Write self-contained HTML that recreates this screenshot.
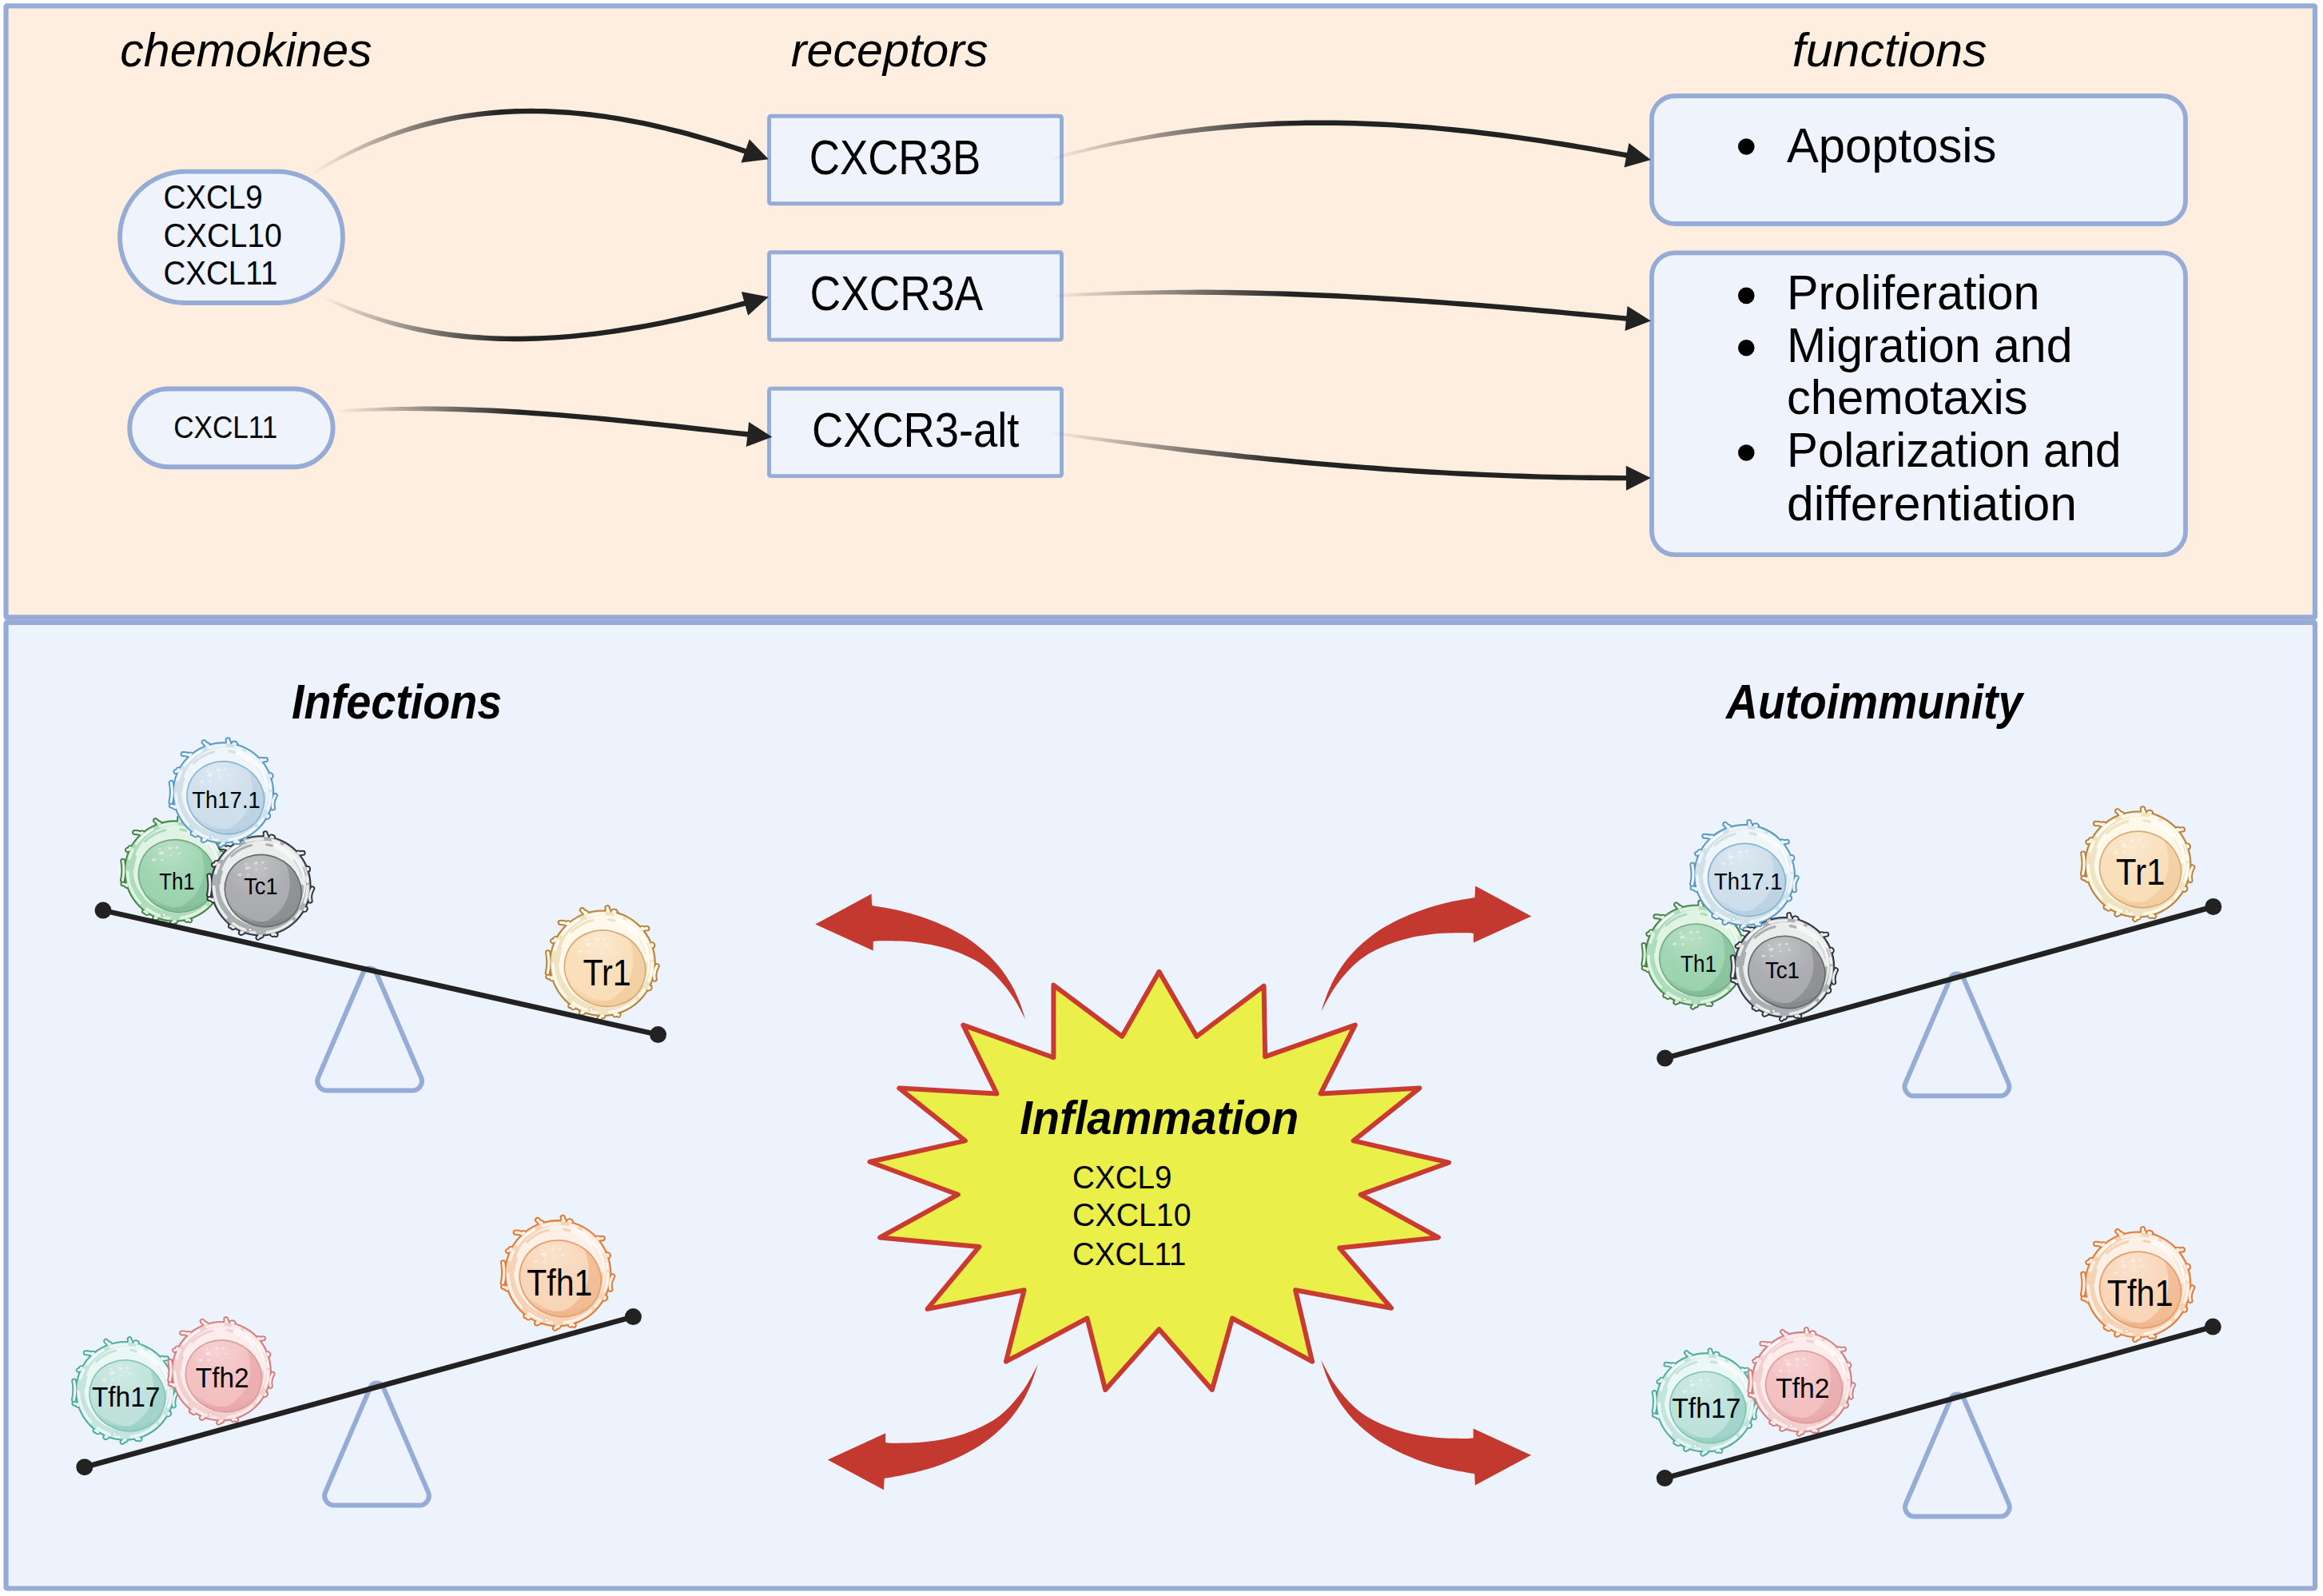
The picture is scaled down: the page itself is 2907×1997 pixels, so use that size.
<!DOCTYPE html>
<html><head><meta charset="utf-8"><title>CXCR3</title>
<style>
html,body{margin:0;padding:0;background:#fff}
svg{display:block;font-family:"Liberation Sans",sans-serif}
</style></head><body>
<svg width="2907" height="1997" viewBox="0 0 2907 1997">
<defs><path id="fg" d="M-19.4 -57.8Q-20.8 -62.3 -25.2 -65.7M6.4 -60.7Q6.8 -64.6 6.0 -68.6M13.2 -59.6Q13.7 -61.7 15.8 -63.5M-40.0 -46.0Q-43.8 -50.3 -52.1 -50.3M46.0 -40.0Q49.4 -42.9 55.1 -43.0M-54.4 -27.7Q-57.2 -29.1 -61.6 -27.4M-58.5 17.3Q-62.5 18.5 -67.3 16.8M53.9 28.6Q55.8 29.7 58.3 29.7M-34.1 50.6Q-35.5 52.6 -39.7 52.6M-22.9 56.6Q-24.0 59.3 -26.1 61.6M0.0 61.0Q0.0 64.5 -3.6 67.8M14.8 59.2Q15.5 62.1 19.6 64.0M57.3 -20.9Q59.4 -21.6 61.8 -21.3M-67.8 11.9Q-65.0 0.0 -67.5 -13.1M67.3 3.5Q62.4 12.1 64.5 19.7" fill="none" stroke-linecap="round"/><path id="fb" d="M-19.4 -57.8Q-20.0 -59.6 -20.6 -61.5M6.4 -60.7Q6.6 -62.6 6.8 -64.4M13.2 -59.6Q13.6 -61.4 14.0 -63.3M-40.0 -46.0Q-41.3 -47.5 -42.5 -48.9M46.0 -40.0Q47.5 -41.3 48.9 -42.5M-54.4 -27.7Q-56.0 -28.6 -57.7 -29.4M-58.5 17.3Q-60.3 17.9 -62.1 18.4M53.9 28.6Q55.5 29.5 57.2 30.4M-34.1 50.6Q-35.2 52.1 -36.2 53.7M-22.9 56.6Q-23.6 58.3 -24.3 60.1M0.0 61.0Q0.0 62.9 0.0 64.8M14.8 59.2Q15.2 61.0 15.7 62.9M57.3 -20.9Q59.1 -21.5 60.9 -22.2" fill="none" stroke-linecap="round"/><circle id="rl" r="61.3" fill="none" stroke-width="3.6" stroke-linecap="round" stroke-dasharray="22 13 9 8 36 16 6 7 18 12 44 18 12 9 28 11"/><circle id="rm" r="54.5" fill="none" stroke-width="3.2" stroke-linecap="round" stroke-dasharray="16 24 30 20 8 34 24 16 12 30" stroke-dashoffset="40"/><g id="hil" fill="none" stroke="#fff" stroke-linecap="round"><path d="M19.0 -52.2A55.5 55.5 0 0 1 53.9 -13.4" stroke-width="7" stroke-opacity=".55"/><path d="M50.6 -35.4A61.8 61.8 0 0 1 61.6 -5.4" stroke-width="1.2" stroke-opacity=".9"/><path d="M-46.7 -39.2A61.0 61.0 0 0 1 -28.6 -53.9" stroke-width="2" stroke-opacity=".8"/></g><ellipse id="nu" cx="0" cy="0" rx="50.6" ry="46.4"/><clipPath id="nuc"><ellipse rx="50.6" ry="46.4"/></clipPath><radialGradient id="nhl" cx="0.30" cy="0.22" r="0.75"><stop offset="0" stop-color="#fff" stop-opacity=".30"/><stop offset=".55" stop-color="#fff" stop-opacity=".05"/><stop offset="1" stop-color="#fff" stop-opacity="0"/></radialGradient><g id="spk" fill="#fff" fill-opacity=".45"><ellipse cx="-30" cy="-20" rx="3.3" ry="2.2" transform="rotate(-35 -30 -20)"/><ellipse cx="-22" cy="-30" rx="2.4" ry="1.6" transform="rotate(-35 -22 -30)"/><ellipse cx="-36" cy="-8" rx="2.7" ry="1.8" transform="rotate(-35 -36 -8)"/><ellipse cx="-14" cy="-34" rx="2.1" ry="1.4" transform="rotate(-35 -14 -34)"/><ellipse cx="-26" cy="-12" rx="2.0" ry="1.3" transform="rotate(-35 -26 -12)"/><ellipse cx="-8" cy="-28" rx="1.8" ry="1.2" transform="rotate(-35 -8 -28)"/><ellipse cx="-34" cy="-24" rx="1.8" ry="1.2" transform="rotate(-35 -34 -24)"/><ellipse cx="-18" cy="-22" rx="1.5" ry="1.0" transform="rotate(-35 -18 -22)"/></g><g id="cB"><use href="#fb" stroke="#5898c5" stroke-width="9.0"/><use href="#fg" stroke="#5898c5" stroke-width="7.2"/><circle r="66.0" fill="#5898c5"/><use href="#fb" stroke="#eff5f9" stroke-width="5.0"/><use href="#fg" stroke="#eff5f9" stroke-width="3.2"/><circle r="64.0" fill="#cfe2ea"/><circle cx="2.4" cy="-2.6" r="56.6" fill="#eff5f9"/><use href="#rl" stroke="#eff5f9"/><use href="#rm" stroke="#cfe2ea"/><use href="#hil"/><circle cx="-14" cy="57.0" r="2.1" fill="#fff" fill-opacity=".85" stroke="#85b5d5" stroke-width=".6"/><circle cx="-9.5" cy="58.5" r="1.3" fill="#fff" fill-opacity=".85" stroke="#85b5d5" stroke-width=".5"/><g transform="translate(3.0 6.4) rotate(22)"><use href="#nu" fill="#cddfeb"/><g clip-path="url(#nuc)"><path d="M-4 -60 C 34 -34 44 4 20 34 C 0 50 -40 44 -60 30 L-60 70 L70 70 L70 -60Z" fill="#b2cbdf" fill-opacity=".62"/><path d="M-60 38 C -30 30 -10 46 14 38 C 30 32 40 22 60 4 L60 70 L-60 70Z" fill="#b2cbdf" fill-opacity=".4"/><use href="#nu" fill="url(#nhl)"/><use href="#spk"/></g><use href="#nu" fill="none" stroke="#85b5d5" stroke-width="1.7"/></g></g><g id="cG"><use href="#fb" stroke="#477f45" stroke-width="9.0"/><use href="#fg" stroke="#477f45" stroke-width="7.2"/><circle r="66.0" fill="#477f45"/><use href="#fb" stroke="#e1f3e5" stroke-width="5.0"/><use href="#fg" stroke="#e1f3e5" stroke-width="3.2"/><circle r="64.0" fill="#aeddbb"/><circle cx="2.4" cy="-2.6" r="56.6" fill="#e1f3e5"/><use href="#rl" stroke="#e1f3e5"/><use href="#rm" stroke="#aeddbb"/><use href="#hil"/><circle cx="-14" cy="57.0" r="2.1" fill="#fff" fill-opacity=".85" stroke="#78a882" stroke-width=".6"/><circle cx="-9.5" cy="58.5" r="1.3" fill="#fff" fill-opacity=".85" stroke="#78a882" stroke-width=".5"/><g transform="translate(3.0 6.4) rotate(22)"><use href="#nu" fill="#9cd3af"/><g clip-path="url(#nuc)"><path d="M-4 -60 C 34 -34 44 4 20 34 C 0 50 -40 44 -60 30 L-60 70 L70 70 L70 -60Z" fill="#7cbc94" fill-opacity=".62"/><path d="M-60 38 C -30 30 -10 46 14 38 C 30 32 40 22 60 4 L60 70 L-60 70Z" fill="#7cbc94" fill-opacity=".4"/><use href="#nu" fill="url(#nhl)"/><use href="#spk"/></g><use href="#nu" fill="none" stroke="#78a882" stroke-width="1.7"/></g></g><g id="cK"><use href="#fb" stroke="#2e343b" stroke-width="9.0"/><use href="#fg" stroke="#2e343b" stroke-width="7.2"/><circle r="66.0" fill="#2e343b"/><use href="#fb" stroke="#ebecec" stroke-width="5.0"/><use href="#fg" stroke="#ebecec" stroke-width="3.2"/><circle r="64.0" fill="#aaafb2"/><circle cx="2.4" cy="-2.6" r="56.6" fill="#ebecec"/><use href="#rl" stroke="#ebecec"/><use href="#rm" stroke="#aaafb2"/><use href="#hil"/><circle cx="-14" cy="57.0" r="2.1" fill="#fff" fill-opacity=".85" stroke="#66686b" stroke-width=".6"/><circle cx="-9.5" cy="58.5" r="1.3" fill="#fff" fill-opacity=".85" stroke="#66686b" stroke-width=".5"/><g transform="translate(3.0 6.4) rotate(22)"><use href="#nu" fill="#a8aaad"/><g clip-path="url(#nuc)"><path d="M-4 -60 C 34 -34 44 4 20 34 C 0 50 -40 44 -60 30 L-60 70 L70 70 L70 -60Z" fill="#7e8083" fill-opacity=".62"/><path d="M-60 38 C -30 30 -10 46 14 38 C 30 32 40 22 60 4 L60 70 L-60 70Z" fill="#7e8083" fill-opacity=".4"/><use href="#nu" fill="url(#nhl)"/><use href="#spk"/></g><use href="#nu" fill="none" stroke="#66686b" stroke-width="1.7"/></g></g><g id="cY"><use href="#fb" stroke="#b9823f" stroke-width="9.0"/><use href="#fg" stroke="#b9823f" stroke-width="7.2"/><circle r="66.0" fill="#b9823f"/><use href="#fb" stroke="#fef9ea" stroke-width="5.0"/><use href="#fg" stroke="#fef9ea" stroke-width="3.2"/><circle r="64.0" fill="#f0e3c2"/><circle cx="2.4" cy="-2.6" r="56.6" fill="#fef9ea"/><use href="#rl" stroke="#fef9ea"/><use href="#rm" stroke="#f0e3c2"/><use href="#hil"/><circle cx="-14" cy="57.0" r="2.1" fill="#fff" fill-opacity=".85" stroke="#d9aa76" stroke-width=".6"/><circle cx="-9.5" cy="58.5" r="1.3" fill="#fff" fill-opacity=".85" stroke="#d9aa76" stroke-width=".5"/><g transform="translate(3.0 6.4) rotate(22)"><use href="#nu" fill="#f9deb8"/><g clip-path="url(#nuc)"><path d="M-4 -60 C 34 -34 44 4 20 34 C 0 50 -40 44 -60 30 L-60 70 L70 70 L70 -60Z" fill="#efc896" fill-opacity=".62"/><path d="M-60 38 C -30 30 -10 46 14 38 C 30 32 40 22 60 4 L60 70 L-60 70Z" fill="#efc896" fill-opacity=".4"/><use href="#nu" fill="url(#nhl)"/><use href="#spk"/></g><use href="#nu" fill="none" stroke="#d9aa76" stroke-width="1.7"/></g></g><g id="cO"><use href="#fb" stroke="#e07c3a" stroke-width="9.0"/><use href="#fg" stroke="#e07c3a" stroke-width="7.2"/><circle r="66.0" fill="#e07c3a"/><use href="#fb" stroke="#fdf0e6" stroke-width="5.0"/><use href="#fg" stroke="#fdf0e6" stroke-width="3.2"/><circle r="64.0" fill="#f6d3b5"/><circle cx="2.4" cy="-2.6" r="56.6" fill="#fdf0e6"/><use href="#rl" stroke="#fdf0e6"/><use href="#rm" stroke="#f6d3b5"/><use href="#hil"/><circle cx="-14" cy="57.0" r="2.1" fill="#fff" fill-opacity=".85" stroke="#e89c69" stroke-width=".6"/><circle cx="-9.5" cy="58.5" r="1.3" fill="#fff" fill-opacity=".85" stroke="#e89c69" stroke-width=".5"/><g transform="translate(3.0 6.4) rotate(22)"><use href="#nu" fill="#f8d5b7"/><g clip-path="url(#nuc)"><path d="M-4 -60 C 34 -34 44 4 20 34 C 0 50 -40 44 -60 30 L-60 70 L70 70 L70 -60Z" fill="#eeaf81" fill-opacity=".62"/><path d="M-60 38 C -30 30 -10 46 14 38 C 30 32 40 22 60 4 L60 70 L-60 70Z" fill="#eeaf81" fill-opacity=".4"/><use href="#nu" fill="url(#nhl)"/><use href="#spk"/></g><use href="#nu" fill="none" stroke="#e89c69" stroke-width="1.7"/></g></g><g id="cP"><use href="#fb" stroke="#cf7e7f" stroke-width="9.0"/><use href="#fg" stroke="#cf7e7f" stroke-width="7.2"/><circle r="66.0" fill="#cf7e7f"/><use href="#fb" stroke="#fdecec" stroke-width="5.0"/><use href="#fg" stroke="#fdecec" stroke-width="3.2"/><circle r="64.0" fill="#f2d0d0"/><circle cx="2.4" cy="-2.6" r="56.6" fill="#fdecec"/><use href="#rl" stroke="#fdecec"/><use href="#rm" stroke="#f2d0d0"/><use href="#hil"/><circle cx="-14" cy="57.0" r="2.1" fill="#fff" fill-opacity=".85" stroke="#dd9a9c" stroke-width=".6"/><circle cx="-9.5" cy="58.5" r="1.3" fill="#fff" fill-opacity=".85" stroke="#dd9a9c" stroke-width=".5"/><g transform="translate(3.0 6.4) rotate(22)"><use href="#nu" fill="#f3bfc0"/><g clip-path="url(#nuc)"><path d="M-4 -60 C 34 -34 44 4 20 34 C 0 50 -40 44 -60 30 L-60 70 L70 70 L70 -60Z" fill="#e7a1a4" fill-opacity=".62"/><path d="M-60 38 C -30 30 -10 46 14 38 C 30 32 40 22 60 4 L60 70 L-60 70Z" fill="#e7a1a4" fill-opacity=".4"/><use href="#nu" fill="url(#nhl)"/><use href="#spk"/></g><use href="#nu" fill="none" stroke="#dd9a9c" stroke-width="1.7"/></g></g><g id="cT"><use href="#fb" stroke="#4cab9c" stroke-width="9.0"/><use href="#fg" stroke="#4cab9c" stroke-width="7.2"/><circle r="66.0" fill="#4cab9c"/><use href="#fb" stroke="#eaf7f4" stroke-width="5.0"/><use href="#fg" stroke="#eaf7f4" stroke-width="3.2"/><circle r="64.0" fill="#c4e5de"/><circle cx="2.4" cy="-2.6" r="56.6" fill="#eaf7f4"/><use href="#rl" stroke="#eaf7f4"/><use href="#rm" stroke="#c4e5de"/><use href="#hil"/><circle cx="-14" cy="57.0" r="2.1" fill="#fff" fill-opacity=".85" stroke="#7fc4b5" stroke-width=".6"/><circle cx="-9.5" cy="58.5" r="1.3" fill="#fff" fill-opacity=".85" stroke="#7fc4b5" stroke-width=".5"/><g transform="translate(3.0 6.4) rotate(22)"><use href="#nu" fill="#bde2da"/><g clip-path="url(#nuc)"><path d="M-4 -60 C 34 -34 44 4 20 34 C 0 50 -40 44 -60 30 L-60 70 L70 70 L70 -60Z" fill="#92ccbf" fill-opacity=".62"/><path d="M-60 38 C -30 30 -10 46 14 38 C 30 32 40 22 60 4 L60 70 L-60 70Z" fill="#92ccbf" fill-opacity=".4"/><use href="#nu" fill="url(#nhl)"/><use href="#spk"/></g><use href="#nu" fill="none" stroke="#7fc4b5" stroke-width="1.7"/></g></g><linearGradient id="ga1" gradientUnits="userSpaceOnUse" x1="389.7" y1="0" x2="628" y2="0"><stop offset="0" stop-color="#222222" stop-opacity="0"/><stop offset="0.5" stop-color="#222222" stop-opacity="0.5"/><stop offset="1" stop-color="#222222" stop-opacity="1"/></linearGradient><linearGradient id="ga2" gradientUnits="userSpaceOnUse" x1="401.4" y1="0" x2="640" y2="0"><stop offset="0" stop-color="#222222" stop-opacity="0"/><stop offset="0.5" stop-color="#222222" stop-opacity="0.5"/><stop offset="1" stop-color="#222222" stop-opacity="1"/></linearGradient><linearGradient id="ga3" gradientUnits="userSpaceOnUse" x1="421.6" y1="0" x2="652" y2="0"><stop offset="0" stop-color="#222222" stop-opacity="0"/><stop offset="0.5" stop-color="#222222" stop-opacity="0.5"/><stop offset="1" stop-color="#222222" stop-opacity="1"/></linearGradient><linearGradient id="ga4" gradientUnits="userSpaceOnUse" x1="1313.8" y1="0" x2="1615" y2="0"><stop offset="0" stop-color="#222222" stop-opacity="0"/><stop offset="0.5" stop-color="#222222" stop-opacity="0.5"/><stop offset="1" stop-color="#222222" stop-opacity="1"/></linearGradient><linearGradient id="ga5" gradientUnits="userSpaceOnUse" x1="1313.8" y1="0" x2="1615" y2="0"><stop offset="0" stop-color="#222222" stop-opacity="0"/><stop offset="0.5" stop-color="#222222" stop-opacity="0.5"/><stop offset="1" stop-color="#222222" stop-opacity="1"/></linearGradient><linearGradient id="ga6" gradientUnits="userSpaceOnUse" x1="1313.8" y1="0" x2="1615" y2="0"><stop offset="0" stop-color="#222222" stop-opacity="0"/><stop offset="0.5" stop-color="#222222" stop-opacity="0.5"/><stop offset="1" stop-color="#222222" stop-opacity="1"/></linearGradient><path id="ra" d="M0 0L70.2 -37.8L70.8 -23.4C74.7 -22.7 85.8 -21.0 94.0 -19.3C102.2 -17.6 111.3 -15.6 120.0 -13.1C128.7 -10.6 137.3 -7.8 146.0 -4.4C154.7 -1.0 163.4 2.7 172.0 7.2C180.6 11.7 188.9 16.3 197.5 22.7C206.1 29.1 215.9 37.5 223.5 45.6C231.1 53.7 237.8 63.1 243.0 71.5C248.2 79.9 251.7 88.0 255.0 96.0C258.3 104.0 261.7 115.3 263.0 119.2C260.5 114.7 253.7 100.7 248.0 92.1C242.3 83.5 235.0 74.5 228.6 67.6C222.2 60.7 216.8 55.9 209.3 50.8C201.8 45.7 192.0 40.9 183.4 37.2C174.8 33.5 166.2 30.8 157.6 28.5C149.0 26.2 140.4 24.7 131.8 23.5C123.2 22.3 114.4 21.6 105.9 21.2C97.4 20.8 86.6 20.8 81.0 20.8C75.4 20.9 73.8 21.4 72.4 21.5L72.4 33.2Z" fill="#c4392f"/></defs>
<rect x="0" y="0" width="2907" height="1997" fill="#fff"/>
<rect x="7.5" y="7.4" width="2889.5" height="764.9" rx="1.2" fill="#feeedf" stroke="#96abd5" stroke-width="6.2"/>
<rect x="7.5" y="778.9" width="2889.5" height="1208.6" rx="1.2" fill="#edf3fc" stroke="#96abd5" stroke-width="6.2"/>
<rect x="6" y="775" width="2892.5" height="1.2" fill="#96abd5" fill-opacity=".6"/>
<text x="150.3" y="82.9" font-size="60" font-style="italic" fill="#000" textLength="315.3" lengthAdjust="spacingAndGlyphs">chemokines</text>
<text x="989.8" y="82.9" font-size="60" font-style="italic" fill="#000" textLength="246.8" lengthAdjust="spacingAndGlyphs">receptors</text>
<text x="2242.8" y="83.3" font-size="60" font-style="italic" fill="#000" textLength="243.7" lengthAdjust="spacingAndGlyphs">functions</text>
<rect x="150" y="214.7" width="279" height="164.3" rx="82.1" fill="#eef3fc" stroke="#96abd5" stroke-width="5.8"/>
<rect x="162.3" y="486.6" width="254.3" height="97.6" rx="48.8" fill="#eef3fc" stroke="#96abd5" stroke-width="6"/>
<text x="204.4" y="261.4" font-size="42" fill="#000" textLength="124.4" lengthAdjust="spacingAndGlyphs">CXCL9</text>
<text x="204.4" y="308.8" font-size="42" fill="#000" textLength="148.6" lengthAdjust="spacingAndGlyphs">CXCL10</text>
<text x="204.4" y="356.3" font-size="42" fill="#000" textLength="143.0" lengthAdjust="spacingAndGlyphs">CXCL11</text>
<text x="217.2" y="547.8" font-size="38" fill="#000" textLength="130.0" lengthAdjust="spacingAndGlyphs">CXCL11</text>
<rect x="962.5" y="145.3" width="366" height="109.4" rx="2" fill="#eef3fc" stroke="#96abd5" stroke-width="4.9"/>
<rect x="962.5" y="315.7" width="366" height="109.4" rx="2" fill="#eef3fc" stroke="#96abd5" stroke-width="4.9"/>
<rect x="962.5" y="486.2" width="366" height="109.4" rx="2" fill="#eef3fc" stroke="#96abd5" stroke-width="4.9"/>
<text x="1012.7" y="217.9" font-size="61" fill="#000" textLength="214.6" lengthAdjust="spacingAndGlyphs">CXCR3B</text>
<text x="1013.4" y="387.6" font-size="61" fill="#000" textLength="216.9" lengthAdjust="spacingAndGlyphs">CXCR3A</text>
<text x="1016.0" y="558.6" font-size="61" fill="#000" textLength="259.4" lengthAdjust="spacingAndGlyphs">CXCR3-alt</text>
<rect x="2067" y="120" width="668" height="160" rx="29" fill="#eef3fc" stroke="#96abd5" stroke-width="5.8"/>
<rect x="2067" y="316.3" width="668" height="377.8" rx="29" fill="#eef3fc" stroke="#96abd5" stroke-width="5.8"/>
<circle cx="2185.3" cy="183.5" r="10.3" fill="#000"/>
<circle cx="2185.3" cy="369.9" r="10.3" fill="#000"/>
<circle cx="2185.3" cy="435.3" r="10.3" fill="#000"/>
<circle cx="2185.3" cy="566.5" r="10.3" fill="#000"/>
<text x="2236.0" y="203.0" font-size="61" fill="#000" textLength="262.5" lengthAdjust="spacingAndGlyphs">Apoptosis</text>
<text x="2236.0" y="387.1" font-size="61" fill="#000" textLength="316.6" lengthAdjust="spacingAndGlyphs">Proliferation</text>
<text x="2236.0" y="452.5" font-size="61" fill="#000" textLength="357.5" lengthAdjust="spacingAndGlyphs">Migration and</text>
<text x="2236.0" y="518.0" font-size="61" fill="#000" textLength="301.5" lengthAdjust="spacingAndGlyphs">chemotaxis</text>
<text x="2236.0" y="584.4" font-size="61" fill="#000" textLength="418.4" lengthAdjust="spacingAndGlyphs">Polarization and</text>
<text x="2236.0" y="650.9" font-size="61" fill="#000" textLength="363.1" lengthAdjust="spacingAndGlyphs">differentiation</text>
<path d="M390.7 219.6L399.8 214.1L408.8 208.8L417.9 203.8L426.9 199.0L436.0 194.4L445.1 190.1L454.2 186.0L463.3 182.1L472.4 178.4L481.5 174.9L490.6 171.6L499.7 168.5L508.8 165.6L517.9 162.9L527.1 160.3L536.2 157.9L545.3 155.7L554.4 153.7L563.5 151.8L572.7 150.1L581.8 148.6L591.0 147.2L600.1 146.0L609.3 145.0L618.5 144.2L627.7 143.5L636.8 142.9L646.1 142.5L655.3 142.3L664.5 142.2L673.7 142.3L683.0 142.5L692.2 142.9L701.5 143.4L710.7 144.0L720.0 144.8L729.3 145.7L738.6 146.7L747.9 147.9L757.2 149.1L766.6 150.6L775.9 152.1L785.2 153.7L794.6 155.5L804.0 157.3L813.3 159.3L822.7 161.4L832.1 163.6L841.5 165.9L851.0 168.3L860.4 170.8L869.8 173.4L879.3 176.0L888.7 178.8L898.2 181.6L907.7 184.6L917.2 187.6L926.7 190.7L936.2 193.8L938.2 187.8L928.7 184.6L919.1 181.5L909.6 178.5L900.1 175.5L890.6 172.7L881.1 169.9L871.5 167.2L862.1 164.6L852.6 162.1L843.1 159.7L833.6 157.4L824.2 155.2L814.7 153.1L805.3 151.1L795.8 149.2L786.4 147.4L777.0 145.8L767.5 144.2L758.1 142.8L748.7 141.5L739.4 140.3L730.0 139.3L720.6 138.4L711.2 137.6L701.9 137.0L692.5 136.5L683.2 136.1L673.8 135.9L664.5 135.8L655.2 135.9L645.8 136.1L636.5 136.5L627.2 137.1L617.9 137.8L608.6 138.7L599.4 139.7L590.1 140.9L580.8 142.3L571.6 143.8L562.3 145.5L553.1 147.4L543.8 149.5L534.6 151.8L525.4 154.3L516.2 157.0L507.0 159.9L497.9 163.1L488.7 166.4L479.6 169.9L470.4 173.6L461.3 177.5L452.2 181.6L443.1 186.0L434.0 190.5L425.0 195.2L415.9 200.2L406.8 205.3L397.7 210.7L388.7 216.2Z" fill="url(#ga1)"/>
<path d="M961.8 199.3L927.4 203.6L937.8 174.3Z" fill="#222222"/>
<path d="M400.5 371.6L409.2 375.9L417.9 380.0L426.6 383.9L435.3 387.6L444.1 391.2L452.9 394.6L461.8 397.8L470.6 400.8L479.5 403.7L488.4 406.4L497.4 408.9L506.4 411.2L515.4 413.4L524.4 415.4L533.5 417.2L542.6 418.9L551.7 420.4L560.8 421.7L570.0 422.9L579.2 423.9L588.3 424.8L597.5 425.5L606.7 426.1L616.0 426.6L625.2 426.9L634.4 427.1L643.7 427.2L652.9 427.2L662.2 427.0L671.5 426.7L680.7 426.3L690.0 425.8L699.3 425.2L708.5 424.5L717.8 423.7L727.1 422.8L736.4 421.8L745.6 420.7L754.9 419.5L764.1 418.3L773.4 416.9L782.6 415.5L791.9 413.9L801.1 412.4L810.3 410.7L819.5 409.0L828.7 407.2L837.8 405.3L847.0 403.4L856.1 401.4L865.3 399.4L874.4 397.3L883.5 395.1L892.5 392.9L901.6 390.7L910.6 388.4L919.6 386.1L928.6 383.8L937.5 381.4L935.9 375.2L927.0 377.6L918.0 379.9L909.0 382.2L900.0 384.5L891.0 386.7L882.0 388.9L872.9 391.0L863.9 393.1L854.8 395.1L845.7 397.1L836.6 399.0L827.4 400.9L818.3 402.7L809.1 404.4L800.0 406.1L790.8 407.6L781.6 409.1L772.4 410.6L763.2 411.9L754.0 413.2L744.8 414.4L735.6 415.5L726.4 416.4L717.2 417.4L708.0 418.2L698.8 418.9L689.6 419.5L680.4 420.0L671.2 420.3L662.0 420.6L652.9 420.8L643.7 420.8L634.5 420.7L625.4 420.5L616.2 420.2L607.1 419.7L598.0 419.1L588.9 418.4L579.8 417.5L570.7 416.5L561.7 415.4L552.7 414.1L543.6 412.7L534.6 411.2L525.6 409.5L516.7 407.7L507.7 405.7L498.8 403.6L489.9 401.3L481.0 398.8L472.1 396.1L463.3 393.3L454.5 390.3L445.7 387.1L436.9 383.7L428.2 380.2L419.5 376.4L410.9 372.4L402.3 368.2Z" fill="url(#ga2)"/>
<path d="M961.8 371.5L936.1 394.7L927.8 364.9Z" fill="#222222"/>
<path d="M421.7 516.5L430.6 516.0L439.5 515.5L448.3 515.2L457.2 514.8L466.1 514.6L474.9 514.4L483.7 514.2L492.6 514.2L501.4 514.1L510.2 514.1L519.0 514.2L527.9 514.3L536.7 514.4L545.5 514.6L554.3 514.8L563.1 515.1L571.8 515.3L580.6 515.6L589.4 515.9L598.2 516.3L607.0 516.6L615.7 517.0L624.5 517.5L633.3 518.0L642.0 518.5L650.8 519.0L659.6 519.6L668.3 520.2L677.1 520.8L685.8 521.4L694.6 522.1L703.4 522.8L712.1 523.5L720.9 524.3L729.6 525.0L738.4 525.8L747.1 526.6L755.9 527.5L764.6 528.3L773.4 529.2L782.1 530.0L790.9 530.9L799.7 531.8L808.4 532.7L817.2 533.7L825.9 534.6L834.7 535.5L843.5 536.5L852.2 537.5L861.0 538.4L869.8 539.4L878.6 540.4L887.3 541.3L896.1 542.3L904.9 543.3L913.7 544.3L922.5 545.2L931.3 546.2L940.1 547.2L940.8 540.8L932.0 539.8L923.2 538.9L914.4 537.9L905.6 536.9L896.8 535.9L888.1 535.0L879.3 534.0L870.5 533.0L861.7 532.1L852.9 531.1L844.2 530.1L835.4 529.2L826.6 528.2L817.9 527.3L809.1 526.4L800.3 525.5L791.6 524.6L782.8 523.7L774.0 522.8L765.3 521.9L756.5 521.1L747.7 520.3L738.9 519.5L730.2 518.7L721.4 517.9L712.6 517.2L703.9 516.4L695.1 515.7L686.3 515.1L677.5 514.4L668.8 513.8L660.0 513.2L651.2 512.6L642.4 512.1L633.6 511.6L624.8 511.1L616.0 510.6L607.2 510.2L598.4 509.9L589.6 509.5L580.8 509.2L572.0 509.0L563.2 508.8L554.4 508.7L545.5 508.6L536.7 508.6L527.9 508.6L519.0 508.7L510.2 508.9L501.3 509.0L492.5 509.3L483.6 509.6L474.8 509.9L465.9 510.2L457.0 510.6L448.2 511.1L439.3 511.6L430.4 512.1L421.5 512.7Z" fill="url(#ga3)"/>
<path d="M966.3 546.8L933.8 558.9L937.1 528.1Z" fill="#222222"/>
<path d="M1314.3 201.2L1326.9 197.7L1339.5 194.5L1352.0 191.4L1364.5 188.4L1377.0 185.6L1389.5 183.0L1401.9 180.5L1414.3 178.2L1426.7 176.0L1439.1 173.9L1451.5 172.0L1463.8 170.2L1476.1 168.6L1488.4 167.0L1500.6 165.6L1512.9 164.2L1525.1 163.0L1537.3 161.9L1549.6 160.9L1561.7 160.0L1573.9 159.2L1586.1 158.6L1598.3 158.0L1610.4 157.6L1622.6 157.3L1634.7 157.0L1646.9 156.9L1659.0 156.9L1671.2 157.0L1683.3 157.2L1695.5 157.5L1707.6 157.9L1719.8 158.4L1731.9 158.9L1744.1 159.6L1756.2 160.4L1768.4 161.2L1780.6 162.1L1792.8 163.1L1805.0 164.2L1817.2 165.4L1829.4 166.7L1841.6 168.0L1853.8 169.4L1866.1 170.9L1878.4 172.4L1890.7 174.1L1903.0 175.8L1915.3 177.5L1927.6 179.3L1940.0 181.2L1952.4 183.2L1964.8 185.2L1977.2 187.2L1989.7 189.3L2002.2 191.5L2014.7 193.7L2027.2 196.0L2039.8 198.3L2040.9 192.0L2028.4 189.7L2015.8 187.4L2003.3 185.2L1990.8 183.0L1978.3 180.9L1965.8 178.8L1953.4 176.8L1941.0 174.9L1928.6 173.0L1916.2 171.2L1903.9 169.4L1891.5 167.7L1879.2 166.1L1866.9 164.5L1854.6 163.1L1842.3 161.6L1830.0 160.3L1817.8 159.0L1805.5 157.9L1793.3 156.8L1781.1 155.8L1768.9 154.8L1756.7 154.0L1744.4 153.2L1732.2 152.5L1720.0 152.0L1707.8 151.5L1695.7 151.1L1683.5 150.8L1671.3 150.6L1659.1 150.5L1646.9 150.5L1634.7 150.6L1622.5 150.9L1610.2 151.2L1598.0 151.6L1585.8 152.2L1573.6 152.9L1561.3 153.6L1549.1 154.5L1536.8 155.5L1524.5 156.7L1512.2 158.0L1499.9 159.4L1487.6 161.0L1475.3 162.7L1462.9 164.6L1450.6 166.6L1438.2 168.7L1425.8 171.0L1413.4 173.4L1401.0 175.9L1388.5 178.6L1376.1 181.4L1363.6 184.3L1351.0 187.4L1338.5 190.6L1325.9 193.9L1313.3 197.4Z" fill="url(#ga4)"/>
<path d="M2065.9 200.0L2032.5 209.4L2038.4 178.9Z" fill="#222222"/>
<path d="M1313.9 372.5L1326.3 371.9L1338.7 371.2L1351.0 370.7L1363.4 370.2L1375.7 369.8L1388.1 369.5L1400.4 369.2L1412.8 369.0L1425.1 368.8L1437.5 368.7L1449.8 368.6L1462.1 368.6L1474.4 368.6L1486.7 368.7L1499.1 368.8L1511.4 368.9L1523.7 369.0L1536.0 369.2L1548.3 369.4L1560.6 369.7L1572.9 369.9L1585.2 370.3L1597.5 370.6L1609.7 371.0L1622.0 371.4L1634.3 371.9L1646.6 372.4L1658.9 373.0L1671.2 373.5L1683.5 374.1L1695.7 374.8L1708.0 375.4L1720.3 376.1L1732.6 376.9L1744.8 377.6L1757.1 378.4L1769.4 379.2L1781.7 380.1L1794.0 380.9L1806.2 381.8L1818.5 382.7L1830.8 383.7L1843.1 384.6L1855.3 385.6L1867.6 386.6L1879.9 387.6L1892.2 388.7L1904.5 389.7L1916.8 390.8L1929.0 391.9L1941.3 393.0L1953.6 394.1L1965.9 395.2L1978.2 396.4L1990.5 397.5L2002.8 398.7L2015.1 399.9L2027.4 401.1L2039.7 402.3L2040.3 395.9L2028.0 394.7L2015.7 393.5L2003.4 392.3L1991.1 391.2L1978.8 390.0L1966.5 388.9L1954.2 387.7L1941.9 386.6L1929.6 385.5L1917.3 384.4L1905.0 383.3L1892.7 382.3L1880.4 381.3L1868.1 380.2L1855.9 379.2L1843.6 378.3L1831.3 377.3L1819.0 376.4L1806.7 375.4L1794.4 374.6L1782.1 373.7L1769.8 372.8L1757.5 372.0L1745.2 371.2L1733.0 370.5L1720.7 369.8L1708.4 369.1L1696.1 368.4L1683.8 367.7L1671.5 367.1L1659.2 366.6L1646.9 366.0L1634.6 365.5L1622.3 365.0L1610.0 364.6L1597.7 364.2L1585.3 363.9L1573.0 363.5L1560.7 363.3L1548.4 363.0L1536.1 362.8L1523.7 362.7L1511.4 362.6L1499.1 362.6L1486.7 362.7L1474.4 362.8L1462.1 363.0L1449.7 363.2L1437.4 363.4L1425.0 363.8L1412.7 364.1L1400.3 364.5L1388.0 365.0L1375.6 365.5L1363.2 366.0L1350.8 366.6L1338.5 367.3L1326.1 367.9L1313.7 368.7Z" fill="url(#ga5)"/>
<path d="M2065.9 401.6L2033.5 414.0L2036.6 383.1Z" fill="#222222"/>
<path d="M1313.5 543.1L1325.9 544.9L1338.3 546.6L1350.6 548.3L1363.0 550.1L1375.3 551.8L1387.6 553.5L1399.9 555.2L1412.2 556.8L1424.5 558.5L1436.8 560.1L1449.1 561.7L1461.4 563.3L1473.6 564.9L1485.9 566.4L1498.2 567.9L1510.4 569.3L1522.7 570.7L1534.9 572.1L1547.2 573.4L1559.4 574.7L1571.7 576.0L1583.9 577.2L1596.2 578.5L1608.4 579.6L1620.7 580.8L1632.9 581.9L1645.2 583.0L1657.4 584.1L1669.7 585.1L1681.9 586.2L1694.2 587.1L1706.4 588.1L1718.7 589.0L1730.9 589.9L1743.2 590.8L1755.5 591.6L1767.7 592.4L1780.0 593.2L1792.3 593.9L1804.6 594.6L1816.9 595.3L1829.2 595.9L1841.5 596.5L1853.8 597.1L1866.2 597.6L1878.5 598.1L1890.8 598.6L1903.2 599.0L1915.6 599.4L1927.9 599.8L1940.3 600.1L1952.7 600.4L1965.1 600.6L1977.6 600.8L1990.0 601.0L2002.5 601.1L2014.9 601.2L2027.4 601.3L2039.9 601.3L2039.9 594.9L2027.4 594.9L2015.0 594.8L2002.5 594.7L1990.1 594.6L1977.7 594.4L1965.3 594.2L1952.9 594.0L1940.5 593.7L1928.1 593.4L1915.8 593.0L1903.4 592.6L1891.1 592.2L1878.7 591.7L1866.4 591.2L1854.1 590.7L1841.8 590.1L1829.5 589.5L1817.2 588.9L1804.9 588.2L1792.7 587.5L1780.4 586.8L1768.1 586.0L1755.9 585.2L1743.6 584.4L1731.4 583.5L1719.1 582.6L1706.9 581.7L1694.7 580.8L1682.4 579.8L1670.2 578.8L1658.0 577.7L1645.7 576.7L1633.5 575.6L1621.3 574.4L1609.0 573.3L1596.8 572.1L1584.6 570.9L1572.3 569.6L1560.1 568.4L1547.9 567.1L1535.6 565.8L1523.4 564.4L1511.1 563.1L1498.9 561.8L1486.6 560.4L1474.3 559.1L1462.0 557.7L1449.8 556.3L1437.5 554.9L1425.2 553.5L1412.9 552.0L1400.5 550.5L1388.2 549.0L1375.9 547.5L1363.5 545.9L1351.2 544.3L1338.8 542.7L1326.4 541.0L1314.1 539.3Z" fill="url(#ga6)"/>
<path d="M2065.9 598.0L2035.0 613.7L2034.8 582.7Z" fill="#222222"/>
<text x="365.0" y="898.9" font-size="61" font-style="italic" font-weight="bold" fill="#000" textLength="263.4" lengthAdjust="spacingAndGlyphs">Infections</text>
<text x="2160.1" y="898.9" font-size="61" font-style="italic" font-weight="bold" fill="#000" textLength="371.0" lengthAdjust="spacingAndGlyphs">Autoimmunity</text>
<path d="M454.6 1216.7A8.75 8.75 0 0 1 470.6 1216.7L527.0 1348.1A11.70 11.70 0 0 1 516.2 1364.4L409.0 1364.4A11.70 11.70 0 0 1 398.2 1348.1Z" fill="none" stroke="#96abd5" stroke-width="6"/>
<use href="#cG" transform="translate(218.8 1089.9) scale(0.9636)"/>
<use href="#cK" transform="translate(326.4 1108.4) scale(0.9576)"/>
<use href="#cB" transform="translate(279.4 992.0) scale(0.9652)"/>
<use href="#cY" transform="translate(754.0 1205.2) scale(1.0121)"/>
<path d="M129 1139.1L823.5 1294.6" stroke="#222222" stroke-width="6.6" fill="none"/><circle cx="129" cy="1139.1" r="10.5" fill="#222222"/><circle cx="823.5" cy="1294.6" r="10.5" fill="#222222"/>
<text x="240.3" y="1010.6" font-size="29" fill="#000" textLength="85.5" lengthAdjust="spacingAndGlyphs">Th17.1</text>
<text x="199.2" y="1113.3" font-size="29" fill="#000" textLength="44.4" lengthAdjust="spacingAndGlyphs">Th1</text>
<text x="305.2" y="1119.2" font-size="29" fill="#000" textLength="42.5" lengthAdjust="spacingAndGlyphs">Tc1</text>
<text x="729.4" y="1233.2" font-size="47" fill="#000" textLength="60.4" lengthAdjust="spacingAndGlyphs">Tr1</text>
<path d="M463.5 1735.7A8.75 8.75 0 0 1 479.5 1735.7L535.9 1867.1A11.70 11.70 0 0 1 525.1 1883.4L417.9 1883.4A11.70 11.70 0 0 1 407.1 1867.1Z" fill="none" stroke="#96abd5" stroke-width="6"/>
<use href="#cT" transform="translate(156.5 1740.3) scale(0.9455)"/>
<use href="#cP" transform="translate(277.1 1715.7) scale(0.9515)"/>
<use href="#cO" transform="translate(698.2 1593.2) scale(1.0167)"/>
<path d="M105.8 1835.7L792.4 1647.6" stroke="#222222" stroke-width="6.6" fill="none"/><circle cx="105.8" cy="1835.7" r="10.5" fill="#222222"/><circle cx="792.4" cy="1647.6" r="10.5" fill="#222222"/>
<text x="114.9" y="1760.4" font-size="35" fill="#000" textLength="85.5" lengthAdjust="spacingAndGlyphs">Tfh17</text>
<text x="244.8" y="1735.7" font-size="35" fill="#000" textLength="66.8" lengthAdjust="spacingAndGlyphs">Tfh2</text>
<text x="659.2" y="1620.5" font-size="46" fill="#000" textLength="82.2" lengthAdjust="spacingAndGlyphs">Tfh1</text>
<path d="M2440.9 1223.6A8.75 8.75 0 0 1 2456.9 1223.6L2513.3 1355.0A11.70 11.70 0 0 1 2502.5 1371.3L2395.3 1371.3A11.70 11.70 0 0 1 2384.5 1355.0Z" fill="none" stroke="#96abd5" stroke-width="6"/>
<use href="#cG" transform="translate(2121.9 1195.1) scale(0.9606)"/>
<use href="#cK" transform="translate(2233.0 1210.3) scale(0.9576)"/>
<use href="#cB" transform="translate(2183.1 1094.8) scale(0.9667)"/>
<use href="#cY" transform="translate(2675.4 1081.5) scale(1.0152)"/>
<path d="M2083.6 1324.1L2769.7 1134.5" stroke="#222222" stroke-width="6.6" fill="none"/><circle cx="2083.6" cy="1324.1" r="10.5" fill="#222222"/><circle cx="2769.7" cy="1134.5" r="10.5" fill="#222222"/>
<text x="2145.1" y="1112.7" font-size="29" fill="#000" textLength="85.3" lengthAdjust="spacingAndGlyphs">Th17.1</text>
<text x="2103.0" y="1216.0" font-size="29" fill="#000" textLength="44.9" lengthAdjust="spacingAndGlyphs">Th1</text>
<text x="2208.9" y="1224.0" font-size="29" fill="#000" textLength="43.1" lengthAdjust="spacingAndGlyphs">Tc1</text>
<text x="2647.8" y="1106.5" font-size="47" fill="#000" textLength="61.6" lengthAdjust="spacingAndGlyphs">Tr1</text>
<path d="M2441.4 1749.8A8.75 8.75 0 0 1 2457.4 1749.8L2513.8 1881.2A11.70 11.70 0 0 1 2503.0 1897.5L2395.8 1897.5A11.70 11.70 0 0 1 2385.0 1881.2Z" fill="none" stroke="#96abd5" stroke-width="6"/>
<use href="#cT" transform="translate(2134.3 1754.9) scale(0.9485)"/>
<use href="#cP" transform="translate(2254.7 1729.3) scale(0.9576)"/>
<use href="#cO" transform="translate(2675.4 1607.4) scale(1.0152)"/>
<path d="M2083.3 1849.6L2769.2 1660.1" stroke="#222222" stroke-width="6.6" fill="none"/><circle cx="2083.3" cy="1849.6" r="10.5" fill="#222222"/><circle cx="2769.2" cy="1660.1" r="10.5" fill="#222222"/>
<text x="2092.2" y="1774.4" font-size="35" fill="#000" textLength="86.2" lengthAdjust="spacingAndGlyphs">Tfh17</text>
<text x="2222.2" y="1748.5" font-size="35" fill="#000" textLength="67.4" lengthAdjust="spacingAndGlyphs">Tfh2</text>
<text x="2636.7" y="1634.1" font-size="46" fill="#000" textLength="82.7" lengthAdjust="spacingAndGlyphs">Tfh1</text>
<path d="M1450.5 1215.8L1497.4 1296.8L1581.6 1233.7L1583.2 1322.1L1695.8 1282.6L1652.6 1368.4L1776.3 1361.6L1693.7 1427.4L1813.2 1454.7L1702.6 1494.7L1800.0 1548.4L1676.3 1561.6L1741.1 1636.8L1621.1 1614.2L1642.1 1703.7L1542.1 1649.5L1516.8 1738.9L1450.5 1663.2L1383.2 1738.9L1360.5 1649.5L1258.9 1703.7L1281.6 1614.2L1160.5 1637.9L1225.3 1560.0L1101.1 1548.4L1198.9 1494.7L1088.4 1453.7L1207.9 1427.4L1125.3 1361.6L1247.4 1368.4L1205.3 1282.6L1318.4 1323.2L1318.4 1232.6L1404.2 1296.8Z" fill="#ebef49" stroke="#c93b31" stroke-width="6" stroke-linejoin="round"/>
<text x="1276.2" y="1418.5" font-size="59" font-style="italic" font-weight="bold" fill="#000" textLength="349.0" lengthAdjust="spacingAndGlyphs">Inflammation</text>
<text x="1342.1" y="1486.6" font-size="41" fill="#000" textLength="124.3" lengthAdjust="spacingAndGlyphs">CXCL9</text>
<text x="1342.1" y="1534.4" font-size="41" fill="#000" textLength="148.4" lengthAdjust="spacingAndGlyphs">CXCL10</text>
<text x="1342.1" y="1582.6" font-size="41" fill="#000" textLength="142.3" lengthAdjust="spacingAndGlyphs">CXCL11</text>
<use href="#ra" transform="translate(1020.3 1156.4)"/>
<use href="#ra" transform="translate(1916.4 1146.4) scale(-1 1)"/>
<use href="#ra" transform="translate(1035.8 1826.5) scale(1 -1)"/>
<use href="#ra" transform="translate(1916.1 1820.8) scale(-1 -1)"/>
</svg></body></html>
